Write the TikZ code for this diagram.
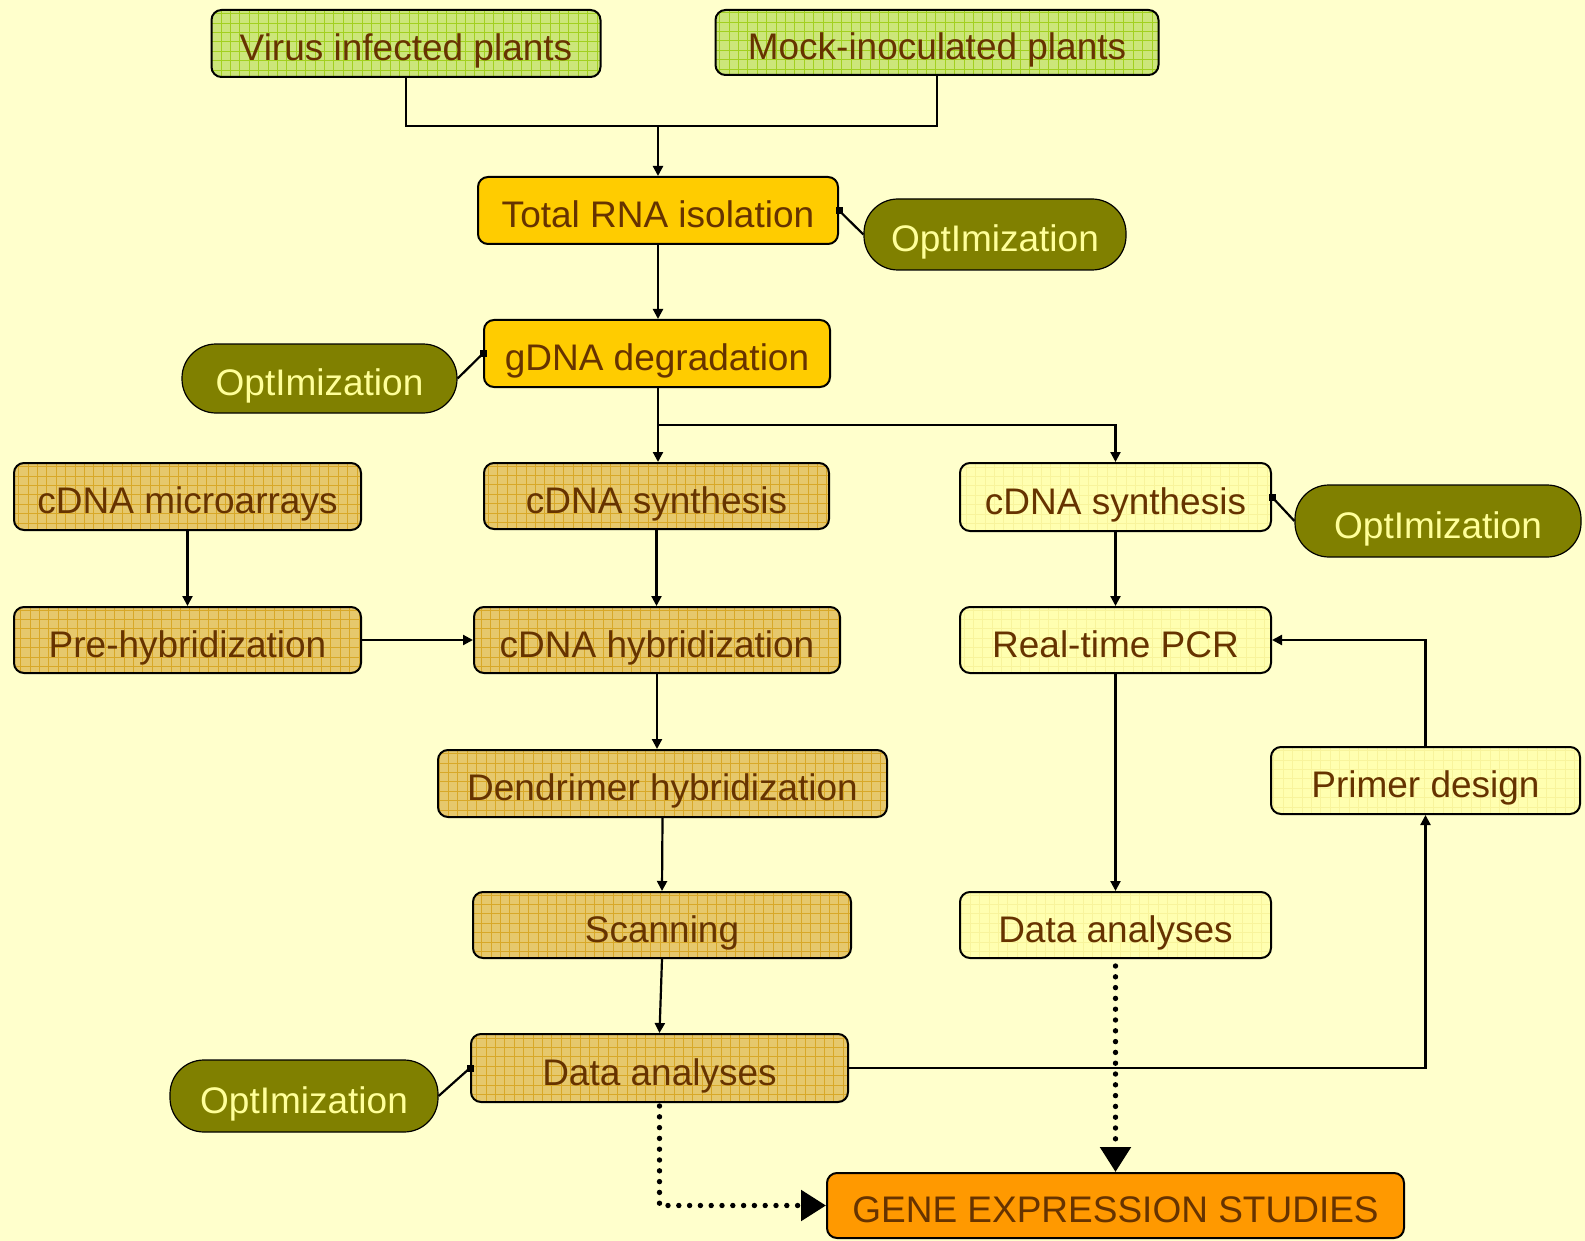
\documentclass[tikz,border=0pt]{standalone}
\usepackage{fontspec}
\setmainfont{Liberation Sans}
\usetikzlibrary{arrows.meta}
\definecolor{bg}{HTML}{FFFFCC}
\definecolor{txt}{HTML}{663300}
\definecolor{gold}{HTML}{E6C86C}
\definecolor{goldgrid}{HTML}{D8A828}
\definecolor{green}{HTML}{CCE67A}
\definecolor{greengrid}{HTML}{A2D020}
\definecolor{pale}{HTML}{FFFFB0}
\definecolor{palegrid}{HTML}{F8F49C}
\definecolor{amber}{HTML}{FFCC00}
\definecolor{orangebox}{HTML}{FF9900}
\definecolor{olive}{HTML}{808000}
\definecolor{opttxt}{HTML}{FFFF99}
\tikzset{
  box/.style={draw=black, line width=1pt, rounded corners=5pt, text=txt,
    font=\fontsize{18.5pt}{20pt}\selectfont, inner sep=0pt, anchor=center,
    text height=17pt, text depth=0pt},
  gridded/.style={path picture={
      \draw[#1, line width=0.35pt, step=4.7pt]
        ([xshift=-2pt,yshift=-2pt]path picture bounding box.south west) grid
        ([xshift=2pt,yshift=2pt]path picture bounding box.north east);}},
  goldbox/.style={box, fill=gold, gridded=goldgrid},
  greenbox/.style={box, fill=green, gridded=greengrid},
  palebox/.style={box, fill=pale, gridded=palegrid},
  solidbox/.style={box, fill=#1},
  optbox/.style={draw=black, line width=0.6pt, fill=olive, text=opttxt,
    rounded corners=17pt, font=\fontsize{18.5pt}{20pt}\selectfont,
    inner sep=0pt, anchor=center, text height=17pt, text depth=0pt},
  conn/.style={line width=1.1pt, draw=black},
  arr/.style={conn, -{Triangle[length=5pt,width=5pt]}},
  optline/.style={line width=1.1pt},
  sq/.style={fill=black},
  dots/.style={line width=2.7pt, line cap=round, dash pattern=on 0pt off 5.4pt,
    -{Triangle[length=12.5pt,width=15pt,line cap=butt]}},
}
\begin{document}
\begin{tikzpicture}[x=0.5pt,y=-0.5pt]
\fill[bg] (0,0) rectangle (1585,1241);
\useasboundingbox (0,0) rectangle (1585,1241);

\node[greenbox, minimum width=194.5pt, minimum height=33.5pt] (virus) at (406,43.5) {Virus infected plants};
\node[greenbox, minimum width=221.5pt, minimum height=32.5pt] (mock) at (937,42.5) {Mock-inoculated plants};
\node[solidbox=amber, minimum width=180pt, minimum height=33.5pt] (rna) at (658,210.5) {Total RNA isolation};
\node[optbox, minimum width=131pt, minimum height=35.5pt] (opt1) at (995,234.5) {OptImization};
\node[solidbox=amber, minimum width=173pt, minimum height=33.5pt] (gdna) at (657,353.5) {gDNA degradation};
\node[optbox, minimum width=137.5pt, minimum height=34.5pt] (opt2) at (319.5,378.5) {OptImization};

\node[goldbox, minimum width=173.5pt, minimum height=33.5pt] (micro) at (187.5,496.5) {cDNA microarrays};
\node[goldbox, minimum width=172.5pt, minimum height=33pt] (cs1) at (656.5,496) {cDNA synthesis};
\node[palebox, minimum width=155.5pt, minimum height=34pt] (cs2) at (1115.5,497) {cDNA synthesis};
\node[optbox, minimum width=143pt, minimum height=36pt] (opt3) at (1438,521) {OptImization};

\node[goldbox, minimum width=173.5pt, minimum height=33pt] (pre) at (187.5,640) {Pre-hybridization};
\node[goldbox, minimum width=183pt, minimum height=33pt] (hyb) at (657,640) {cDNA hybridization};
\node[palebox, minimum width=155.5pt, minimum height=33pt] (rt) at (1115.5,640) {Real-time PCR};
\node[palebox, minimum width=154.5pt, minimum height=33.5pt] (primer) at (1425.5,780.5) {Primer design};
\node[goldbox, minimum width=224.5pt, minimum height=33.5pt] (dend) at (662.5,783.5) {Dendrimer hybridization};
\node[goldbox, minimum width=189pt, minimum height=33pt] (scan) at (662,925) {Scanning};
\node[palebox, minimum width=155.5pt, minimum height=33pt] (dar) at (1115.5,925) {Data analyses};
\node[goldbox, minimum width=188.5pt, minimum height=34pt] (dam) at (659.5,1068) {Data analyses};
\node[optbox, minimum width=134pt, minimum height=36pt] (opt4) at (304,1096) {OptImization};
\node[solidbox=orangebox, minimum width=288.5pt, minimum height=32.5pt] (gene) at (1115.5,1205.5) {GENE EXPRESSION STUDIES};

% top merge
\coordinate (j1) at (658,126);
\draw[conn] (virus.south) |- (j1);
\draw[conn] (mock.south) |- (j1);
\draw[arr] (j1) -- (rna.north);
\draw[arr] (rna.south) -- (rna.south |- gdna.north);
% split
\coordinate (j2) at (658,425);
\draw[arr] (j2 |- gdna.south) -- (j2 |- cs1.north);
\draw[arr] (j2) -| (cs2.north);
% microarray branch
\draw[arr] (micro.south) -- (pre.north);
\draw[arr] (cs1.south) -- (cs1.south |- hyb.north);
\draw[arr] (pre.east) -- (hyb.west);
\draw[arr] (hyb.south) -- (hyb.south |- dend.north);
\draw[arr] (dend.south) -- (scan.north);
\draw[arr] (scan.south) -- (dam.north);
% PCR branch
\draw[arr] (cs2.south) -- (rt.north);
\draw[arr] (rt.south) -- (dar.north);
\draw[arr] (primer.north) |- (rt.east);
\draw[arr] (dam.east) -| (primer.south);
% optimization links
\draw[optline] (rna.east) -- (opt1.west);
\fill[sq] (rna.east) ++(-3.5,-3.5) rectangle ++(7,7);
\draw[optline] (gdna.west) -- (opt2.east);
\fill[sq] (gdna.west) ++(-3.5,-3.5) rectangle ++(7,7);
\draw[optline] (cs2.east) -- (opt3.west);
\fill[sq] (cs2.east) ++(-3.5,-3.5) rectangle ++(7,7);
\draw[optline] (dam.west) -- (opt4.east);
\fill[sq] (dam.west) ++(-3.5,-3.5) rectangle ++(7,7);
% dotted to gene expression
\draw[dots, shorten <=3.5pt] (dar.south) -- (gene.north);
\draw[dots, shorten <=1.5pt] (dam.south) |- (gene.west);
\end{tikzpicture}
\end{document}
